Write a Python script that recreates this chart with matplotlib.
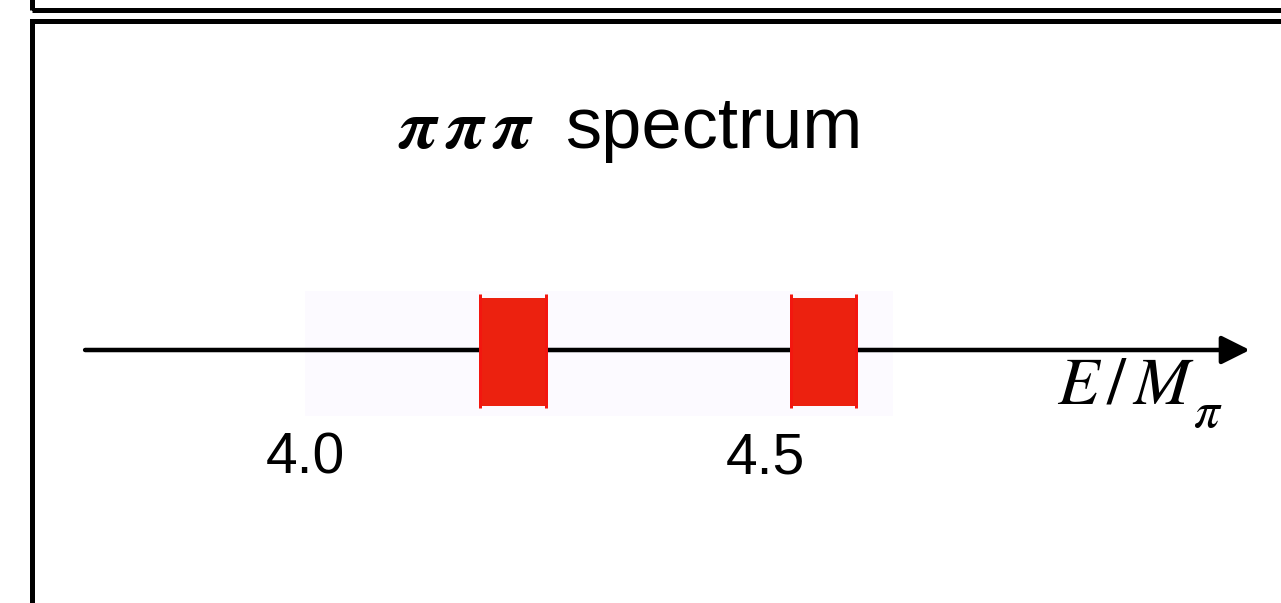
import matplotlib
matplotlib.use("Agg")
import matplotlib.pyplot as plt
from matplotlib.patches import Rectangle

# spectrum data (E / M_pi)
levels = [4.226, 4.5635]
level_err = [0.036, 0.035]
band = (4.0, 4.639)
tick_vals = [4.0, 4.5]
tick_labels = ["4.0", "4.5"]
axis_range = (3.761, 5.027)

plt.rcParams["mathtext.fontset"] = "stix"

W, H = 1281, 603
fig = plt.figure(figsize=(W / 100, H / 100), dpi=100)
ax = fig.add_axes([0, 0, 1, 1])
# 920 px per unit, 4.0 sits at x=305
x0 = 4.0 - 305 / 920
ax.set_xlim(x0, x0 + W / 920)
ax.set_ylim(H, 0)
ax.axis("off")

px = 72 / 100  # points per pixel

# panel frames, figure pixel coords (origin bottom-left)
fig.patches.append(Rectangle((32, H - 10), 1400, 300, transform=None, fill=False,
                             lw=5 * px, ec="black"))
fig.patches.append(Rectangle((32, -50), 1400, H - 21 + 50, transform=None, fill=False,
                             lw=5 * px, ec="black"))

# light band
ax.add_patch(Rectangle((band[0], 291), band[1] - band[0], 125, fc="#fcfaff", ec="none", zorder=0))

# axis arrow
ax.annotate("", xy=(axis_range[1], 350), xytext=(axis_range[0], 350),
            arrowprops=dict(arrowstyle="-|>,head_length=0.86,head_width=0.43",
                            mutation_scale=20, lw=4.5 * px, color="black",
                            shrinkA=0, shrinkB=0), zorder=2)

# levels
for c, e in zip(levels, level_err):
    ax.add_patch(Rectangle((c - e, 298), 2 * e, 108, fc="#ec210f", ec="none", zorder=3))
    ax.vlines([c - e, c + e], 294, 408, color="#f3160f", lw=3 * px, zorder=3)

for v, t in zip(tick_vals, tick_labels):
    ax.text(v, 474, t, ha="center", va="baseline", fontsize=41,
            family="Liberation Sans")

ax.text(4.0 + (398 - 305) / 920, 148, r"$\boldsymbol{\pi\,\pi\,\pi}$", ha="left", va="baseline",
        fontsize=50)
ax.text(4.0 + (565 - 305) / 920, 148, "spectrum", ha="left", va="baseline",
        fontsize=52, family="Liberation Sans")

# axis label E/M_pi, subscript drawn larger and lower as in the original
ax.text(4.0 + (1057 - 305) / 920, 403, r"$E\,/\,M$", ha="left", va="baseline",
        fontsize=49)
ax.text(4.0 + (1193 - 305) / 920, 427, r"$\pi$", ha="left", va="baseline",
        fontsize=37)

fig.savefig("out.png", dpi=100)
